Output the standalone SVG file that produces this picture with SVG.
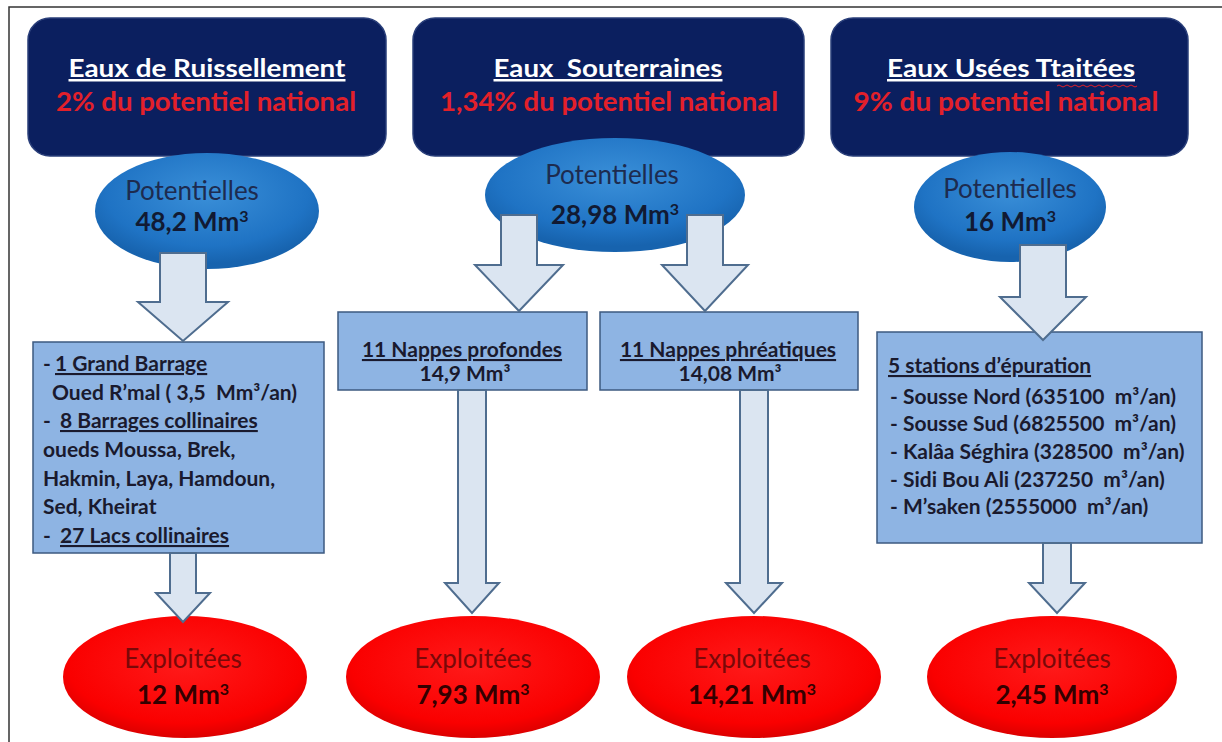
<svg xmlns="http://www.w3.org/2000/svg" width="1222" height="742" viewBox="0 0 1222 742">
<defs>
<radialGradient id="gBlue" cx="50%" cy="35%" r="60%">
<stop offset="0" stop-color="#3a8fd8"/><stop offset="0.75" stop-color="#1f73c4"/><stop offset="1" stop-color="#1763ae"/>
</radialGradient>
<radialGradient id="gRed" cx="50%" cy="40%" r="60%">
<stop offset="0" stop-color="#ff1a1a"/><stop offset="0.8" stop-color="#fa0000"/><stop offset="1" stop-color="#dc0000"/>
</radialGradient>
<style>
text{font-family:Lato,"Liberation Sans",sans-serif;white-space:pre}
.hdr{fill:#0b1f5f;stroke:#2a3f7a;stroke-width:1.5}
.ttl{font-size:25px;font-weight:bold;fill:#ffffff;text-decoration:underline}
.nat{font-size:26px;font-weight:bold;fill:#e3202a}
.pot{font-size:26px;fill:#1d2b4f}
.val{font-size:26px;font-weight:bold;fill:#111a33}
.box{fill:#8eb4e3;stroke:#3d5a80;stroke-width:1.5}
.bt{font-size:21px;font-weight:bold;fill:#1a1a2e}
.u{text-decoration:underline}
.exp{font-size:26px;fill:#7a0808}
.expv{font-size:26px;font-weight:bold;fill:#330000}
.arr{fill:#dbe5f1;stroke:#4f6d8f;stroke-width:2;stroke-linejoin:miter}
.frame{stroke:#333;stroke-width:1.5;fill:none}
</style>
</defs>
<rect width="1222" height="742" fill="#ffffff"/>
<path class="frame" d="M9,742 V7 H1222"/>

<g id="header-ruissellement">
<rect class="hdr" x="28" y="18" width="358" height="138" rx="22"/>
<text class="ttl" x="207" y="77" text-anchor="middle" textLength="277" lengthAdjust="spacingAndGlyphs">Eaux de Ruissellement</text>
<text class="nat" x="206" y="111" text-anchor="middle" textLength="300" lengthAdjust="spacingAndGlyphs">2% du potentiel national</text>
</g>
<g id="header-souterraines">
<rect class="hdr" x="413" y="18" width="391" height="138" rx="22"/>
<text class="ttl" x="608" y="77" text-anchor="middle" textLength="229" lengthAdjust="spacingAndGlyphs">Eaux  Souterraines</text>
<text class="nat" x="609" y="111" text-anchor="middle" textLength="338" lengthAdjust="spacingAndGlyphs">1,34% du potentiel national</text>
</g>
<g id="header-usees">
<rect class="hdr" x="831" y="18" width="357" height="138" rx="22"/>
<text class="ttl" x="1011" y="77" text-anchor="middle" textLength="248" lengthAdjust="spacingAndGlyphs">Eaux Usées Ttaitées</text>
<path d="M1057,86 q2,-2 4,0 t4,0 t4,0 t4,0 t4,0 t4,0 t4,0 t4,0 t4,0 t4,0 t4,0 t4,0 t4,0 t4,0 t4,0 t4,0 t4,0 t4,0 t4,0 t4,0" fill="none" stroke="#e3202a" stroke-width="1"/>
<text class="nat" x="1006" y="111" text-anchor="middle" textLength="305" lengthAdjust="spacingAndGlyphs">9% du potentiel national</text>
</g>

<g id="pot-ruissellement">
<ellipse cx="207" cy="211" rx="112" ry="58" fill="url(#gBlue)"/>
<text class="pot" x="192" y="200" text-anchor="middle">Potentielles</text>
<text class="val" x="192" y="231" text-anchor="middle">48,2 Mm<tspan font-size="16" baseline-shift="55%">3</tspan></text>
</g>
<g id="pot-souterraines">
<ellipse cx="615" cy="195" rx="130" ry="57" fill="url(#gBlue)"/>
<text class="pot" x="612" y="184" text-anchor="middle">Potentielles</text>
<text class="val" x="615" y="224" text-anchor="middle">28,98 Mm<tspan font-size="16" baseline-shift="55%">3</tspan></text>
</g>
<g id="pot-usees">
<ellipse cx="1010" cy="207" rx="96" ry="55" fill="url(#gBlue)"/>
<text class="pot" x="1010" y="198" text-anchor="middle">Potentielles</text>
<text class="val" x="1010" y="231" text-anchor="middle">16 Mm<tspan font-size="16" baseline-shift="55%">3</tspan></text>
</g>

<g id="box-barrages">
<rect class="box" x="33" y="342" width="291" height="211"/>
<text class="bt" x="43" y="371">- <tspan class="u" x="55">1 Grand Barrage</tspan></text>
<text class="bt" x="52" y="400">Oued R’mal ( 3,5  Mm³/an)</text>
<text class="bt" x="43" y="428">-  <tspan class="u" x="60">8 Barrages collinaires</tspan></text>
<text class="bt" x="43" y="457">oueds Moussa, Brek,</text>
<text class="bt" x="43" y="486">Hakmin, Laya, Hamdoun,</text>
<text class="bt" x="43" y="514">Sed, Kheirat</text>
<text class="bt" x="43" y="543">-  <tspan class="u" x="60">27 Lacs collinaires</tspan></text>
</g>
<g id="box-profondes">
<rect class="box" x="338" y="312" width="249" height="78"/>
<text class="bt u" x="462" y="357" text-anchor="middle">11 Nappes profondes</text>
<text class="bt" x="465" y="381" text-anchor="middle">14,9 Mm³</text>
</g>
<g id="box-phreatiques">
<rect class="box" x="600" y="312" width="258" height="78"/>
<text class="bt u" x="728" y="357" text-anchor="middle">11 Nappes phréatiques</text>
<text class="bt" x="730" y="381" text-anchor="middle">14,08 Mm³</text>
</g>
<g id="box-stations">
<rect class="box" x="877" y="332" width="325" height="211"/>
<text class="bt u" x="888" y="373" font-size="23">5 stations d’épuration</text>
<text class="bt" x="890" y="404">- Sousse Nord (635100  m³/an)</text>
<text class="bt" x="890" y="431">- Sousse Sud (6825500  m³/an)</text>
<text class="bt" x="890" y="459">- Kalâa Séghira (328500  m³/an)</text>
<text class="bt" x="890" y="487">- Sidi Bou Ali (237250  m³/an)</text>
<text class="bt" x="890" y="514">- M’saken (2555000  m³/an)</text>
</g>

<g id="exp-ruissellement">
<ellipse cx="185" cy="677" rx="122" ry="61" fill="url(#gRed)"/>
<text class="exp" x="183" y="668" text-anchor="middle">Exploitées</text>
<text class="expv" x="183" y="704" text-anchor="middle">12 Mm<tspan font-size="16" baseline-shift="55%">3</tspan></text>
</g>
<g id="exp-profondes">
<ellipse cx="473" cy="677" rx="127" ry="61" fill="url(#gRed)"/>
<text class="exp" x="473" y="668" text-anchor="middle">Exploitées</text>
<text class="expv" x="473" y="704" text-anchor="middle">7,93 Mm<tspan font-size="16" baseline-shift="55%">3</tspan></text>
</g>
<g id="exp-phreatiques">
<ellipse cx="754" cy="677" rx="127" ry="61" fill="url(#gRed)"/>
<text class="exp" x="752" y="668" text-anchor="middle">Exploitées</text>
<text class="expv" x="752" y="704" text-anchor="middle">14,21 Mm<tspan font-size="16" baseline-shift="55%">3</tspan></text>
</g>
<g id="exp-usees">
<ellipse cx="1052" cy="677" rx="125" ry="61" fill="url(#gRed)"/>
<text class="exp" x="1052" y="668" text-anchor="middle">Exploitées</text>
<text class="expv" x="1052" y="704" text-anchor="middle">2,45 Mm<tspan font-size="16" baseline-shift="55%">3</tspan></text>
</g>

<g id="connectors">
<path class="arr" d="M160,253 H206 V302 H228 L183,341 L138,302 H160 Z"/>
<path class="arr" d="M501,215 H537 V265 H563 L519,311 L475,265 H501 Z"/>
<path class="arr" d="M687,215 H723 V265 H748 L705,311 L662,265 H687 Z"/>
<path class="arr" d="M1020,245 H1066 V297 H1086 L1043,340 L1000,297 H1020 Z"/>
<path class="arr" d="M170,553 H196 V593 H210 L183,622 L156,593 H170 Z"/>
<path class="arr" d="M458,390 H486 V583 H499 L472,613 L445,583 H458 Z"/>
<path class="arr" d="M740,390 H768 V583 H782 L754,613 L726,583 H740 Z"/>
<path class="arr" d="M1043,543 H1071 V583 H1085 L1057,613 L1029,583 H1043 Z"/>
</g>
</svg>
